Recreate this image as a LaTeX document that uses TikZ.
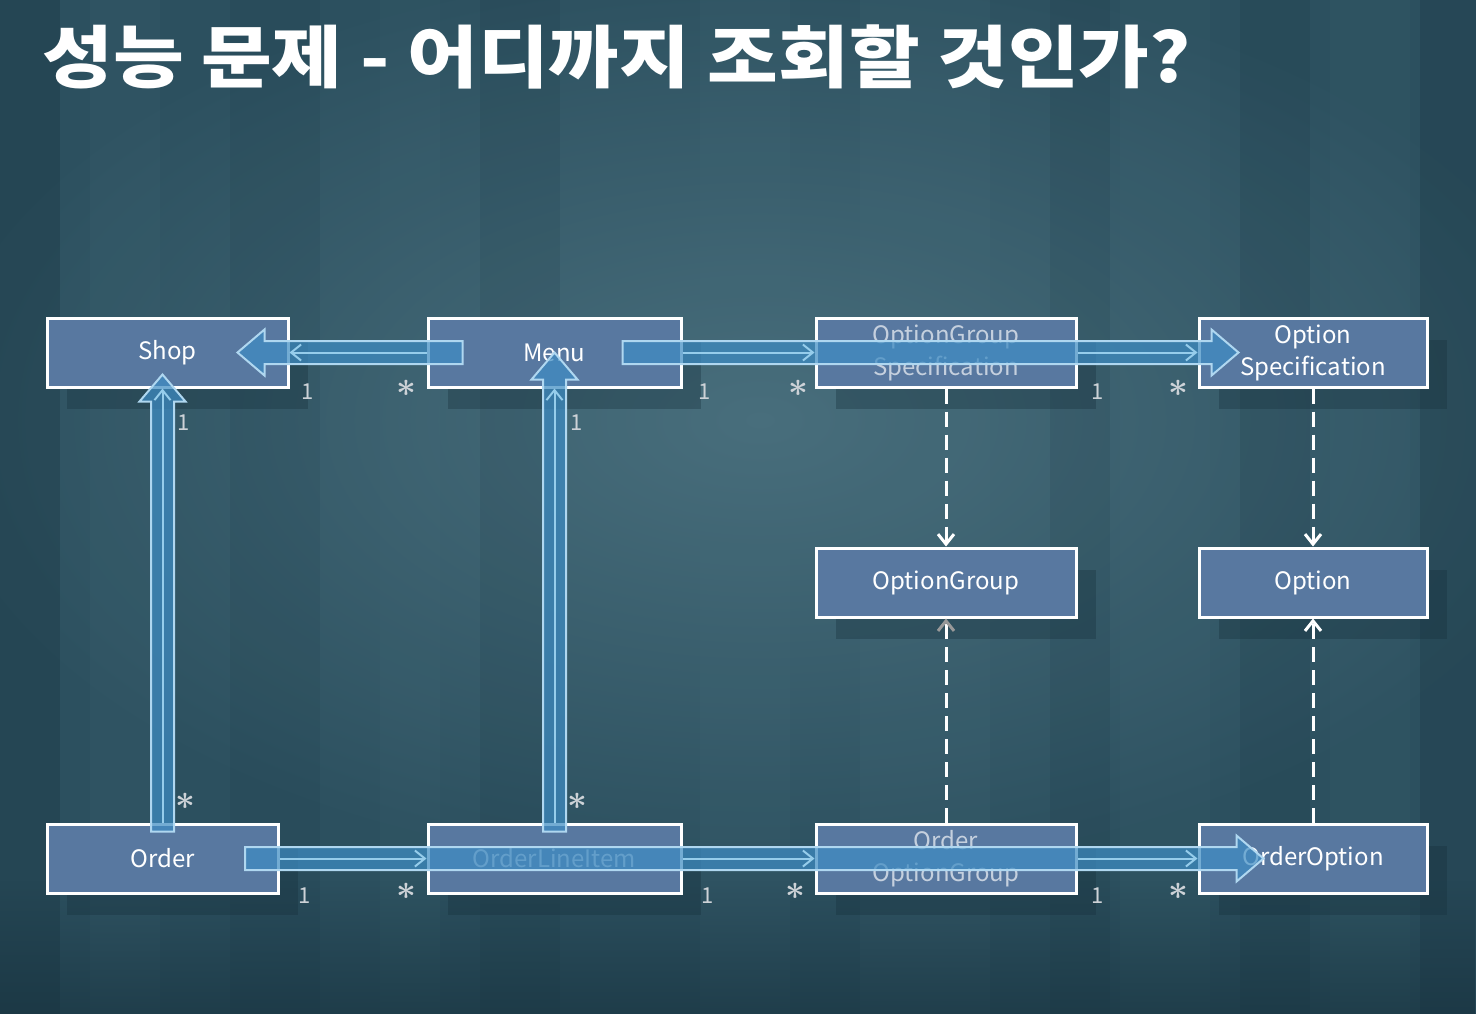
\documentclass[tikz,border=0pt]{standalone}
\usepackage{fontspec}
\setmainfont{Noto Sans CJK KR}
\usepackage{tikz}
\usetikzlibrary{arrows.meta,calc,positioning,shadows,fadings}
\definecolor{bgteal}{RGB}{44,80,95}
\definecolor{bglight}{RGB}{72,110,124}
\definecolor{bgdark}{RGB}{22,48,60}
\definecolor{boxblue}{RGB}{88,120,160}
\definecolor{fatblue}{RGB}{62,140,195}
\definecolor{fatrim}{RGB}{175,215,240}
\definecolor{assocblue}{RGB}{150,205,235}
\definecolor{multgray}{RGB}{205,210,215}

\tikzset{
  entity/.style={draw=white, line width=1.5pt, fill=boxblue, text=white, align=center,
    minimum height=34.5pt, inner sep=0pt, font=\fontsize{12}{16}\selectfont,
    drop shadow={shadow xshift=10pt, shadow yshift=-11pt, opacity=0.35, fill=bgdark}},
  covered/.style={text=white!65!boxblue},
  assoc/.style={draw=assocblue, line width=1pt, -{Straight Barb[length=5pt,width=8pt]}},
  dep/.style={draw=white, line width=1.5pt, dash pattern=on 7.5pt off 4pt,
    -{Straight Barb[length=5pt,width=8pt]}},
  fat/.style={fill=fatblue, fill opacity=0.72, draw=fatrim, line width=1pt},
  mult/.style={text=multgray, inner sep=0pt, font=\fontsize{11}{13}\selectfont},
  title/.style={text=white, inner sep=0pt, font=\fontsize{34}{40}\selectfont\bfseries}
}

% hollow fat arrow from #1 (tail) to #2 (tip)
\newcommand{\fatarrow}[2]{%
  \coordinate (hb) at ($(#2)!13.5pt!(#1)$);
  \filldraw[fat] ($(#1)!5.75pt!90:(#2)$) -- ($(hb)!5.75pt!90:(#2)$) -- ($(hb)!11.5pt!90:(#2)$)
    -- (#2) -- ($(hb)!11.5pt!-90:(#2)$) -- ($(hb)!5.75pt!-90:(#2)$) -- ($(#1)!5.75pt!-90:(#2)$) -- cycle;}
\newcommand{\many}{{\fontsize{17}{17}\selectfont\boldmath$\ast$}}

\begin{document}
\begin{tikzpicture}[x=0.5pt,y=-0.5pt]
  \useasboundingbox (0,0) rectangle (1476,1014);
  \fill[bgteal] (0,0) rectangle (1476,1014);
  \shade[inner color=bglight, outer color=bgteal] (760,420) ellipse [x radius=420pt, y radius=230pt];
  % streaky backdrop
  \foreach \bx/\bw/\bc/\bo in {0/60/bgdark/0.3, 90/70/bglight/0.12, 230/90/bgdark/0.1,
      380/60/bglight/0.1, 480/80/bgdark/0.12, 700/90/bglight/0.12, 860/130/bglight/0.15,
      1050/60/bgdark/0.12, 1120/90/bglight/0.1, 1240/70/bgdark/0.15, 1330/80/bglight/0.1,
      1420/56/bgdark/0.25}
    \fill[\bc, opacity=\bo] (\bx,0) rectangle ++(\bw,1014);
  \fill[bgdark, opacity=0.6, path fading=north] (0,880) rectangle (1476,1014);

  \node[title, anchor=west] (title) at (42,57) {\scalebox{1.13}[1]{성능 문제 - 어디까지 조회할 것인가?}};

  % entities
  \node[entity, minimum width=120.5pt] (shop) at (167.5,352.5) {Shop};
  \node[entity, minimum width=126.5pt] (menu) at (554.5,352.5) {Menu};
  \node[entity, covered, minimum width=130pt] (ogspec) at (946,352.5) {OptionGroup\\Specification};
  \node[entity, minimum width=114pt] (ospec) at (1313,352.5) {Option\\Specification};
  \node[entity, minimum width=130pt] (ogroup) at (946,582.5) {OptionGroup};
  \node[entity, minimum width=114pt] (option) at (1313,582.5) {Option};
  \node[entity, minimum width=115.5pt] (order) at (162.5,858.5) {Order};
  \node[entity, covered, minimum width=126.5pt] (lineitem) at (554.5,858.5) {OrderLineItem};
  \node[entity, covered, minimum width=130pt] (ogorder) at (946,858.5) {Order\\OptionGroup};
  \node[entity, minimum width=114pt] (ooption) at (1313,858.5) {OrderOption};

  % dependencies
  \draw[dep] (ogspec.south) -- (ogroup.north);
  \draw[dep] (ospec.south) -- (option.north);
  \draw[dep, -{Straight Barb[length=5pt,width=8pt,color=gray!80]}] (ogorder.north) -- (ogroup.south);
  \draw[dep] (ooption.north) -- (option.south);

  % query path
  \coordinate (fas1) at ($(menu.west)+(36,0)$);
  \coordinate (fat1) at ($(shop.east)+(-52,0)$);
  \coordinate (fas2) at ($(menu.east)+(-60,0)$);
  \coordinate (fat2) at ($(ospec.west)+(41,0)$);
  \coordinate (fas3) at ($(order.north)+(0,9)$);
  \coordinate (fat3) at ($(order.north |- shop.center)+(0,22)$);
  \coordinate (fas4) at ($(lineitem.north)+(0,9)$);
  \coordinate (fat4) at (lineitem.north |- menu.center);
  \coordinate (fas5) at ($(order.center)+(82.5,0)$);
  \coordinate (fat5) at ($(ooption.west)+(66,0)$);
  \foreach \i in {1,...,5} {\fatarrow{fas\i}{fat\i}}

  % associations
  \draw[assoc] (menu.west) -- (shop.east);
  \draw[assoc] (menu.east) -- (ogspec.west);
  \draw[assoc] (ogspec.east) -- (ospec.west);
  \draw[assoc] (order.north) -- (order.north |- shop.south);
  \draw[assoc] (lineitem.north) -- (menu.south);
  \draw[assoc] (order.east) -- (lineitem.west);
  \draw[assoc] (lineitem.east) -- (ogorder.west);
  \draw[assoc] (ogorder.east) -- (ooption.west);

  % multiplicities
  \foreach \anc/\dx/\dy/\m [count=\k] in {shop.south east/18/3/1, menu.south west/-20/0/\many,
      menu.south east/22/3/1, ogspec.south west/-16/0/\many, ogspec.south east/20/3/1,
      ospec.south west/-19/0/\many, shop.south/16/34/1, menu.south/22/34/1,
      order.north/23/-21/\many, lineitem.north/23/-21/\many, order.south east/25/1/1,
      lineitem.south west/-20/-3/\many, lineitem.south east/25/1/1, ogorder.south west/-19/-3/\many,
      ogorder.south east/20/1/1, ooption.south west/-19/-3/\many}
    \node[mult] (mult\k) at ($(\anc)+(\dx,\dy)$) {\m};
\end{tikzpicture}
\end{document}
